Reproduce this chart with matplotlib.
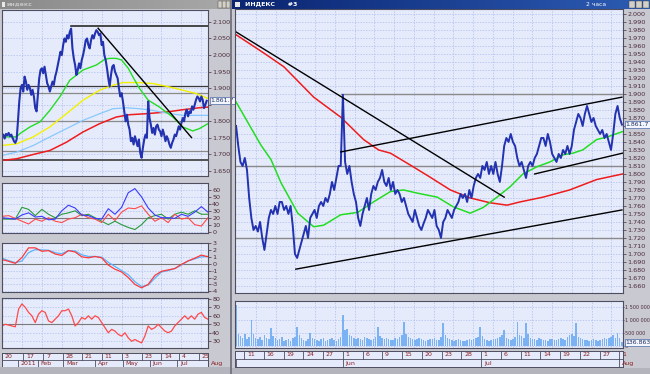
import numpy as np
import matplotlib
matplotlib.use("Agg")
import matplotlib.pyplot as plt
from matplotlib.colors import LinearSegmentedColormap
from matplotlib.patches import Rectangle

# ---------------- data: left (daily) chart ----------------
left_close = [
    1.752, 1.760, 1.748, 1.762, 1.758, 1.765, 1.755, 1.760, 1.750, 1.740,
    1.735, 1.745, 1.800, 1.860, 1.900, 1.910, 1.890, 1.935, 1.920, 1.895,
    1.910, 1.900, 1.880, 1.895, 1.875, 1.840, 1.830, 1.880, 1.930, 1.955,
    1.960, 1.945, 1.965, 1.940, 1.915, 1.905, 1.890, 1.905, 1.920, 1.910,
    1.935, 1.950, 1.970, 1.990, 2.010, 2.000, 2.030, 2.050, 2.040, 2.060,
    2.050, 2.070, 2.080, 2.020, 1.990, 1.970, 1.940, 1.955, 1.975, 1.960,
    1.985, 2.000, 2.020, 2.045, 2.050, 2.030, 2.020, 2.045, 2.060, 2.050,
    2.065, 2.075, 2.070, 2.060, 2.065, 2.030, 2.040, 2.000, 1.985, 1.960,
    1.930, 1.905, 1.940, 1.965, 1.970, 1.950, 1.940, 1.930, 1.900, 1.875,
    1.885, 1.860, 1.830, 1.800, 1.820, 1.790, 1.775, 1.740, 1.750, 1.730,
    1.755, 1.740, 1.725, 1.745, 1.705, 1.690, 1.720, 1.745, 1.760, 1.750,
    1.860, 1.810, 1.790, 1.765, 1.780, 1.760, 1.785, 1.790, 1.775, 1.770,
    1.755, 1.775, 1.760, 1.740, 1.755, 1.745, 1.730, 1.720, 1.735, 1.745,
    1.760, 1.755, 1.770, 1.785, 1.775, 1.795, 1.810, 1.800, 1.825, 1.835,
    1.815, 1.830, 1.825, 1.845, 1.835, 1.850, 1.865, 1.875, 1.870, 1.860,
    1.875, 1.865, 1.840, 1.850, 1.862]

left_green_x = [0, 11, 13.5, 21, 28.5, 36, 43.5, 51, 61, 71, 77.3, 81, 86, 90, 95,
                98.5, 103.5, 110, 118.5, 128.5, 136, 143.5, 148.5, 155]
left_green_y = [1.753, 1.753, 1.763, 1.783, 1.798, 1.833, 1.874, 1.924, 1.955, 1.970,
                1.987, 1.990, 1.990, 1.985, 1.960, 1.934, 1.899, 1.864, 1.843, 1.813,
                1.783, 1.771, 1.778, 1.793]
left_yellow_x = [0, 11, 23.5, 36, 48.5, 61, 73.5, 83.5, 91, 103.5, 113.5, 123.5, 136, 146, 155]
left_yellow_y = [1.727, 1.732, 1.753, 1.783, 1.823, 1.864, 1.894, 1.909, 1.917, 1.917,
                 1.914, 1.906, 1.894, 1.884, 1.869]
left_cyan_x = [0, 11, 23.5, 36, 48.5, 61, 73.5, 83.5, 93.5, 103.5, 113.5, 123.5, 136, 148.5, 155]
left_cyan_y = [1.697, 1.707, 1.727, 1.753, 1.778, 1.803, 1.823, 1.838, 1.841, 1.838,
               1.833, 1.825, 1.818, 1.818, 1.818]
left_red_x = [0, 11, 23.5, 36, 48.5, 61, 73.5, 86, 96, 108.5, 123.5, 136, 148.5, 155]
left_red_y = [1.682, 1.687, 1.700, 1.712, 1.737, 1.768, 1.793, 1.813, 1.820, 1.823,
              1.828, 1.835, 1.841, 1.843]

left_trend_x = [72.3, 142.6]
left_trend_y = [2.081, 1.751]
left_top_level = 2.089
left_top_level_start = 51.8
left_bottom_level = 1.682
left_dark_level = 1.906
left_gray_levels = [1.884, 1.801, 1.709]

# indicator panels (sampled every 5 / 2.5 trading days)
adx_blue = [20, 19, 18, 24, 27, 21, 22, 17, 18, 30, 38, 34, 24, 23, 19, 18,
            33, 25, 35, 56, 62, 50, 34, 24, 20, 20, 19, 25, 22, 28, 36, 28]
di_red = [22, 23, 19, 15, 11, 18, 15, 20, 15, 13, 18, 20, 25, 20, 18, 13,
          25, 16, 28, 34, 33, 37, 25, 15, 20, 13, 25, 18, 20, 10, 8, 20]
di_green = [18, 18, 18, 35, 32, 23, 32, 25, 20, 25, 27, 30, 23, 25, 20, 15,
            10, 15, 10, 6, 3, 10, 20, 23, 25, 18, 25, 28, 25, 30, 25, 25]
macd_red = [0.6, 0.35, 0.05, 0.9, 2.3, 2.3, 1.8, 1.9, 1.4, 1.2, 1.9, 1.7, 1.0, 0.85, 1.05, 0.85,
            -0.2, -0.8, -1.2, -2.0, -3.0, -3.5, -3.0, -1.7, -1.1, -0.9, -0.7, -0.1, 0.4, 0.8, 1.25, 1.0]
macd_blue = [0.8, 0.45, 0.15, 0.4, 1.6, 2.05, 2.0, 1.95, 1.6, 1.45, 1.9, 1.85, 1.3, 1.05, 1.05, 0.95,
             0.2, -0.4, -1.0, -1.6, -2.6, -3.3, -3.1, -2.1, -1.2, -1.0, -0.7, -0.2, 0.4, 0.7, 1.0, 1.06]
rsi = [48, 50, 49, 48, 47, 68, 74, 70, 64, 60,
       52, 62, 66, 64, 54, 52, 56, 60, 66, 66,
       68, 60, 48, 52, 58, 56, 60, 56, 60, 58,
       52, 46, 40, 44, 42, 38, 36, 40, 34, 30,
       32, 30, 28, 36, 48, 44, 46, 50, 46, 42,
       40, 42, 48, 52, 56, 60, 56, 60, 56, 62,
       64, 58, 56]

left_day_ticks = [0, 16, 31, 46, 60, 75, 90, 105, 120, 133, 148]
left_day_labels = ["20", "17", "7", "28", "21", "11", "3", "23", "14", "4", "25"]
left_month_ticks = [12, 27, 46, 70, 91, 111, 132, 155]
left_month_labels = ["2011", "Feb", "Mar", "Apr", "May", "Jun", "Jul", "Aug"]

# ---------------- data: right (2-hour) chart ----------------
right_close = [
    1.860, 1.835, 1.815, 1.810, 1.820, 1.805, 1.770, 1.745, 1.730, 1.735, 1.728, 1.740,
    1.720, 1.705, 1.725, 1.745, 1.755, 1.750, 1.760, 1.750, 1.765, 1.765, 1.755, 1.760,
    1.750, 1.760, 1.735, 1.700, 1.695, 1.705, 1.715, 1.725, 1.735, 1.720, 1.745, 1.750,
    1.755, 1.745, 1.760, 1.765, 1.760, 1.770, 1.765, 1.775, 1.790, 1.780, 1.795, 1.810,
    1.810, 1.899, 1.815, 1.800, 1.810, 1.790, 1.775, 1.765, 1.745, 1.735, 1.750, 1.760,
    1.770, 1.755, 1.775, 1.785, 1.780, 1.790, 1.795, 1.805, 1.790, 1.785, 1.795, 1.780,
    1.790, 1.775, 1.780, 1.775, 1.765, 1.770, 1.760, 1.750, 1.745, 1.740, 1.755, 1.745,
    1.735, 1.730, 1.738, 1.745, 1.755, 1.750, 1.745, 1.755, 1.735, 1.730, 1.720, 1.740,
    1.745, 1.755, 1.750, 1.745, 1.755, 1.760, 1.765, 1.775, 1.770, 1.775, 1.765, 1.780,
    1.770, 1.785, 1.795, 1.800, 1.795, 1.810, 1.805, 1.815, 1.800, 1.810, 1.800, 1.815,
    1.800, 1.790, 1.810, 1.835, 1.845, 1.840, 1.850, 1.840, 1.835, 1.820, 1.810, 1.815,
    1.805, 1.795, 1.810, 1.815, 1.810, 1.820, 1.825, 1.835, 1.845, 1.845, 1.835, 1.850,
    1.840, 1.825, 1.820, 1.815, 1.825, 1.820, 1.830, 1.825, 1.835, 1.825, 1.835, 1.855,
    1.865, 1.875, 1.870, 1.860, 1.875, 1.885, 1.875, 1.865, 1.870, 1.860, 1.855, 1.850,
    1.855, 1.845, 1.850, 1.840, 1.830, 1.850, 1.875, 1.885, 1.870, 1.8617]

right_green_x = [0, 11.4, 16, 20.6, 28.3, 35.6, 40.2, 48, 55.8, 63, 70.8, 76.8, 83.2, 92.3,
                 99.6, 107.4, 113.3, 119.7, 125.7, 131.6, 138, 144, 150, 154.5, 159,
                 165.4, 170, 177.3]
right_green_y = [1.890, 1.836, 1.818, 1.789, 1.751, 1.734, 1.736, 1.749, 1.752, 1.765,
                 1.778, 1.780, 1.776, 1.771, 1.759, 1.751, 1.758, 1.771, 1.784, 1.800,
                 1.809, 1.815, 1.824, 1.826, 1.830, 1.843, 1.846, 1.853]
right_red_x = [0, 12.8, 21.9, 35.6, 48, 58.5, 65.4, 70.8, 80, 89, 98.3, 107.4, 116.5,
               124.3, 130.2, 140.8, 153, 165.4, 177.3]
right_red_y = [1.974, 1.951, 1.934, 1.896, 1.871, 1.843, 1.830, 1.826, 1.811, 1.796,
               1.780, 1.770, 1.764, 1.761, 1.765, 1.771, 1.780, 1.793, 1.800]

right_trends = [  # (x0, y0, x1, y1)
    (0.0, 1.9775, 123.0, 1.771),
    (48.0, 1.8275, 177.0, 1.896),
    (27.4, 1.681, 177.0, 1.755),
    (137.0, 1.800, 177.3, 1.826),
]
right_level_high = 1.900
right_level_high_start = 48.0
right_levels = [1.810, 1.720]

volume_k = [
    1580, 450, 380, 300, 460, 260, 350, 1000, 480, 300,
    280, 350, 240, 420, 300, 260, 690, 380, 300, 220,
    260, 330, 190, 240, 280, 210, 300, 350, 730, 420,
    300, 250, 200, 260, 500, 320, 280, 240, 200, 260,
    300, 180, 220, 260, 300, 240, 200, 280, 350, 1190,
    600, 650, 420, 380, 300, 260, 320, 280, 240, 350,
    300, 260, 220, 280, 350, 730, 400, 320, 260, 300,
    280, 240, 220, 300, 260, 350, 420, 920, 480, 350,
    300, 260, 240, 280, 300, 260, 220, 200, 240, 280,
    260, 300, 220, 240, 350, 880, 420, 300, 260, 220,
    200, 240, 260, 220, 180, 200, 240, 260, 220, 280,
    300, 350, 730, 400, 260, 220, 200, 240, 280, 260,
    300, 350, 420, 610, 300, 260, 240, 280, 350, 920,
    420, 380, 300, 880, 450, 320, 280, 260, 240, 300,
    260, 220, 240, 200, 260, 280, 240, 220, 260, 300,
    280, 240, 350, 420, 480, 400, 880, 350, 300, 260,
    240, 220, 200, 240, 260, 220, 200, 240, 280, 300,
    260, 300, 350, 420, 300, 500, 300, 137]

right_day_labels = ["11", "16", "19", "24", "27", "1", "6", "9", "15", "20",
                    "23", "28", "1", "6", "11", "14", "19", "22", "27", "1"]
right_month_labels = {5: "Jun", 12: "Jul", 19: "Aug"}
bars_per_day = 3
first_tick_day = 1.22
days_between_ticks = 3.02

# ---------------- drawing ----------------
W, H = 650, 374
fig = plt.figure(figsize=(W / 100, H / 100), dpi=100, facecolor='#c9c9d2')

BG = '#e6ebfb'
GRID = '#a9bcef'
LBL = '#4a2a3a'
DATE = '#8a2020'
SPINE = '#4e4e60'


def px_ax(x0, y0, x1, y1, **kw):
    return fig.add_axes([x0 / W, 1 - y1 / H, (x1 - x0) / W, (y1 - y0) / H], **kw)


def style(ax, xgrid, yticks, ylabels, xlim, ylim, lsize=4.6, tlen=2, pad=1):
    ax.set_facecolor(BG)
    for s in ax.spines.values():
        s.set_color(SPINE)
        s.set_linewidth(0.8)
    ax.set_xlim(*xlim)
    ax.set_ylim(*ylim)
    ax.set_xticks(xgrid)
    ax.set_yticks(yticks)
    ax.set_yticklabels(ylabels)
    ax.yaxis.tick_right()
    ax.tick_params(axis='x', bottom=False, labelbottom=False)
    ax.tick_params(axis='y', labelsize=lsize, length=tlen, width=0.5, pad=pad,
                   labelcolor=LBL, color=LBL)
    ax.grid(True, color=GRID, lw=0.5, ls=(0, (2, 2)))
    ax.set_axisbelow(True)


def value_box(ax, y, text):
    ax.annotate(text, xy=(1.0, y), xycoords=('axes fraction', 'data'),
                xytext=(2, 0), textcoords='offset points', fontsize=4.4,
                color='#203060', va='center', ha='left', annotation_clip=False,
                bbox=dict(boxstyle='square,pad=0.15', fc='#f4f6ff', ec='#4a6aa8', lw=0.5))


def title_bar(x0, x1, colors, text, tcolor, right_text=None):
    ax = px_ax(x0, 0, x1, 9)
    grad = np.linspace(0, 1, 256)[None, :]
    ax.imshow(grad, cmap=LinearSegmentedColormap.from_list('tb', colors),
              aspect='auto', extent=[0, 1, 0, 1])
    ax.set_xlim(0, 1)
    ax.set_ylim(0, 1)
    ax.axis('off')
    ax.add_patch(Rectangle((0.008, 0.25), 0.012, 0.5, fc='#e8e8e8', ec='none'))
    ax.text(0.03, 0.5, text, color=tcolor, fontsize=4.5, va='center', ha='left',
            fontweight='bold')
    if right_text:
        ax.text(0.895, 0.5, right_text, color=tcolor, fontsize=4.3, va='center', ha='right')
    for k in range(3):
        ax.add_patch(Rectangle((1 - 0.016 * (k + 1) * 1.05, 0.12), 0.015, 0.76,
                               fc='#d4d0c8', ec='#404040', lw=0.3))
    return ax


def date_rows(x0, x1, y0, y1, xlim, day_pos, day_lbl, mon_pos, mon_lbl):
    ax = px_ax(x0, y0, x1, y1)
    ax.set_facecolor(BG)
    for s in ax.spines.values():
        s.set_color(SPINE)
        s.set_linewidth(0.7)
    ax.set_xlim(*xlim)
    ax.set_ylim(0, 2)
    ax.set_xticks([])
    ax.set_yticks([])
    ax.axhline(1, color=SPINE, lw=0.6)
    for p, l in zip(day_pos, day_lbl):
        ax.plot([p, p], [1, 2], color=SPINE, lw=0.6)
        ax.annotate(l, (p, 1.5), xytext=(2, 0), textcoords='offset points',
                    fontsize=4.5, color=DATE, va='center', ha='left', annotation_clip=False)
    for p, l in zip(mon_pos, mon_lbl):
        ax.plot([p, p], [0, 1], color=SPINE, lw=0.6, clip_on=False)
        ax.annotate(l, (p, 0.5), xytext=(2, 0), textcoords='offset points',
                    fontsize=4.5, color=DATE, va='center', ha='left', annotation_clip=False)
    return ax


# window chrome
fig.patches.append(Rectangle((230 / W, 0), 2 / W, 1, transform=fig.transFigure,
                             fc='#7a7a86', ec='none'))
fig.patches.append(Rectangle((0, 0), 230 / W, 7 / H, transform=fig.transFigure,
                             fc='#b4b4bc', ec='none'))
fig.patches.append(Rectangle((232 / W, 0), 418 / W, 6 / H, transform=fig.transFigure,
                             fc='#b4b4bc', ec='none'))
title_bar(0, 230, ['#8a8a8a', '#a8a8a8'], 'индекс', '#c4c4c4')
title_bar(232, 650, ['#0a2470', '#2c5cb4'], 'ИНДЕКС      #3', 'white', '2 часа')

# ---- left main chart ----
lx = np.arange(len(left_close))
LXLIM = (0, 155)
lgrid = [15, 30, 45, 60, 75, 90, 105, 120, 135, 150]
axL = px_ax(2, 10, 208, 176)
lt = [1.65, 1.70, 1.75, 1.80, 1.85, 1.90, 1.95, 2.00, 2.05, 2.10]
lt_lbl = ['' if abs(v - 1.85) < 1e-9 else f"{v:.3f}" for v in lt]  # hidden under value box
style(axL, lgrid, lt, lt_lbl, LXLIM, (1.635, 2.136))
axL.axhline(left_dark_level, color='#3a3a3a', lw=0.9)
for lv in left_gray_levels:
    axL.axhline(lv, color='#8a8a8a', lw=0.9)
axL.axhline(left_bottom_level, color='#3a3a3a', lw=1.2)
axL.plot([left_top_level_start, 155], [left_top_level] * 2, color='#2a2a2a', lw=1.2)
axL.plot(left_red_x, left_red_y, color='#ee1c1c', lw=1.1)
axL.plot(left_cyan_x, left_cyan_y, color='#88c8ff', lw=0.9)
axL.plot(left_yellow_x, left_yellow_y, color='#f2f200', lw=1.0)
axL.plot(left_green_x, left_green_y, color='#22dd22', lw=1.0)
axL.plot(lx, left_close, color='#2232b0', lw=1.5)
axL.plot(left_trend_x, left_trend_y, color='black', lw=1.0)
value_box(axL, left_close[-1], '1.861.7')

# ---- left indicator panels ----
xa = np.arange(len(adx_blue)) * 5
axA = px_ax(2, 183, 208, 233)
ta = [0, 10, 20, 30, 40, 50, 60]
style(axA, lgrid, ta, [str(v) for v in ta], LXLIM, (-2, 70))
axA.axhline(20, color='#7a7a7a', lw=0.8)
axA.plot(xa, di_green, color='#2a9a3a', lw=0.8)
axA.plot(xa, di_red, color='#ff4a4a', lw=0.8)
axA.plot(xa, adx_blue, color='#3a3aff', lw=0.8)

axB = px_ax(2, 243, 208, 292)
tb = [-4, -3, -2, -1, 0, 1, 2, 3]
style(axB, lgrid, tb, [str(v) for v in tb], LXLIM, (-4.1, 2.9))
axB.axhline(0, color='#7a7a7a', lw=0.8)
axB.plot(xa, macd_blue, color='#5ab4ff', lw=0.9)
axB.plot(xa, macd_red, color='#ff3a3a', lw=0.9)

xr = np.arange(len(rsi)) * 2.5
axC = px_ax(2, 298, 208, 348)
tc = [30, 40, 50, 60, 70, 80]
style(axC, lgrid, tc, [str(v) for v in tc], LXLIM, (22, 81))
axC.axhline(50, color='#7a7a7a', lw=0.8)
axC.plot(xr, rsi, color='#ff4a4a', lw=0.9)

date_rows(2, 208, 353, 367, LXLIM, left_day_ticks, left_day_labels,
          left_month_ticks, left_month_labels)

# ---- right main chart ----
rx = np.arange(len(right_close))
RXLIM = (-0.5, 177.5)
rtick = [(first_tick_day + days_between_ticks * k) * bars_per_day for k in range(len(right_day_labels))]
rgrid = [days_between_ticks * bars_per_day * k for k in range(1, 20)]
axR = px_ax(235, 9, 623, 293)
rt = [round(1.66 + 0.01 * k, 2) for k in range(35)]
rt_lbl = ['' if abs(v - 1.86) < 1e-9 else f"{v:.3f}" for v in rt]  # hidden under value box
style(axR, rgrid, rt, rt_lbl, RXLIM, (1.6512, 2.0062))
for lv in right_levels:
    axR.axhline(lv, color='#8a8a8a', lw=1.0)
axR.plot([right_level_high_start, RXLIM[1]], [right_level_high] * 2, color='#8a8a8a', lw=1.0)
axR.plot(right_red_x, right_red_y, color='#ee1c1c', lw=1.1)
axR.plot(right_green_x, right_green_y, color='#22dd22', lw=1.1)
axR.plot(rx, right_close, color='#2232b0', lw=1.4)
for x0, y0, x1, y1 in right_trends:
    axR.plot([x0, x1], [y0, y1], color='black', lw=1.0)
value_box(axR, right_close[-1], '1.861.7')

# ---- volume ----
vx = np.arange(len(volume_k))
axV = px_ax(235, 301, 623, 348)
tv = [0, 500000, 1000000, 1500000]
style(axV, rgrid, tv, ['0', '500 000', '1 000 000', '1 500 000'], RXLIM,
      (-75000, 1730000), lsize=3.5, tlen=1, pad=0.5)
axV.bar(vx, np.array(volume_k) * 1000, width=0.7, color='#7ab2f4', lw=0)
value_box(axV, volume_k[-1] * 1000, '136.863')

mon_pos = [rtick[0] - first_tick_day * bars_per_day] + [rtick[k] for k in right_month_labels]
mon_lbl = [''] + list(right_month_labels.values())
date_rows(235, 623, 351, 367, RXLIM, rtick, right_day_labels, mon_pos, mon_lbl)

fig.savefig('out.png', dpi=100, facecolor=fig.get_facecolor())
